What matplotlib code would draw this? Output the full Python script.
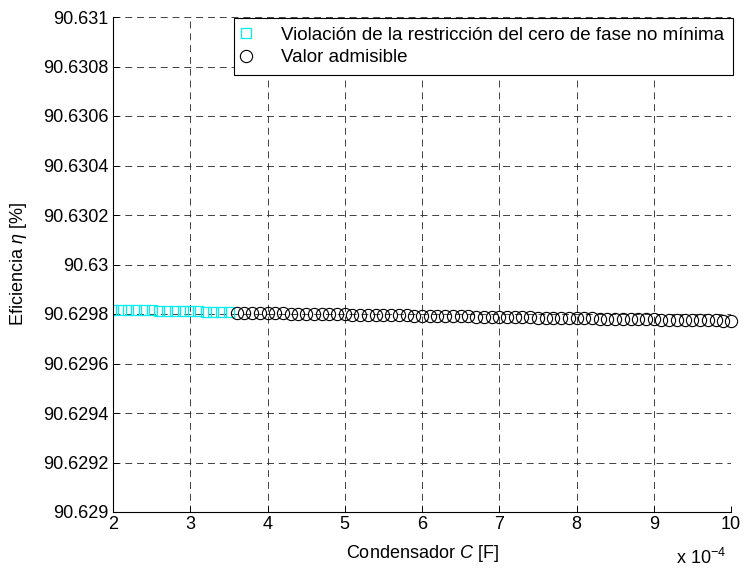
import matplotlib
matplotlib.use("Agg")
import matplotlib.pyplot as plt

plt.rcParams["font.family"] = ["Liberation Sans", "DejaVu Sans"]
plt.rcParams["mathtext.fontset"] = "custom"
plt.rcParams["mathtext.rm"] = "Liberation Sans"
plt.rcParams["mathtext.it"] = "Liberation Sans:italic"
plt.rcParams["font.size"] = 13
plt.rcParams["lines.scale_dashes"] = False

# Condensador C en unidades de 1e-4 F
c_viol = [2.0, 2.1, 2.2, 2.3, 2.4, 2.5, 2.6, 2.7, 2.8, 2.9, 3.0, 3.1,
          3.2, 3.3, 3.4, 3.5]
eta_viol = [90.629818, 90.629818, 90.629818, 90.629818, 90.629818, 90.629818,
            90.629813, 90.629813, 90.629813, 90.629813, 90.629813, 90.629813,
            90.629808, 90.629808, 90.629808, 90.629808]

c_ok = [3.6, 3.7, 3.8, 3.9, 4.0, 4.1, 4.2, 4.3, 4.4, 4.5, 4.6, 4.7, 4.8, 4.9,
        5.0, 5.1, 5.2, 5.3, 5.4, 5.5, 5.6, 5.7, 5.8, 5.9, 6.0, 6.1, 6.2, 6.3,
        6.4, 6.5, 6.6, 6.7, 6.8, 6.9, 7.0, 7.1, 7.2, 7.3, 7.4, 7.5, 7.6, 7.7,
        7.8, 7.9, 8.0, 8.1, 8.2, 8.3, 8.4, 8.5, 8.6, 8.7, 8.8, 8.9, 9.0, 9.1,
        9.2, 9.3, 9.4, 9.5, 9.6, 9.7, 9.8, 9.9, 10.0]
eta_ok = [90.629806, 90.629805, 90.629805, 90.629804, 90.629804, 90.629803,
          90.629803, 90.629802, 90.629802, 90.629801, 90.629800, 90.629800,
          90.629799, 90.629799, 90.629798, 90.629797, 90.629797, 90.629796,
          90.629796, 90.629795, 90.629795, 90.629794, 90.629794, 90.629793,
          90.629793, 90.629792, 90.629792, 90.629791, 90.629791, 90.629790,
          90.629790, 90.629789, 90.629789, 90.629788, 90.629788, 90.629787,
          90.629787, 90.629786, 90.629786, 90.629785, 90.629785, 90.629784,
          90.629784, 90.629783, 90.629783, 90.629782, 90.629782, 90.629781,
          90.629781, 90.629780, 90.629780, 90.629779, 90.629779, 90.629778,
          90.629778, 90.629777, 90.629777, 90.629776, 90.629776, 90.629775,
          90.629775, 90.629774, 90.629774, 90.629773, 90.629773]

xticks = [2, 3, 4, 5, 6, 7, 8, 9, 10]
yticks = [90.629, 90.6292, 90.6294, 90.6296, 90.6298, 90.63,
          90.6302, 90.6304, 90.6306, 90.6308, 90.631]
ytick_labels = ["90.629", "90.6292", "90.6294", "90.6296", "90.6298", "90.63",
                "90.6302", "90.6304", "90.6306", "90.6308", "90.631"]

fig = plt.figure(figsize=(7.44, 5.69), dpi=100)
ax = fig.add_axes([113 / 744, 1 - 512 / 569, 618 / 744, 495 / 569])

ax.plot(c_viol, eta_viol, linestyle="none", marker="s", markersize=7.8,
        markerfacecolor="none", markeredgecolor="#00f0f0", markeredgewidth=0.9,
        label="Violación de la restricción del cero de fase no mínima")
ax.plot(c_ok, eta_ok, linestyle="none", marker="o", markersize=8.8,
        markerfacecolor="none", markeredgecolor="black", markeredgewidth=0.8,
        label="Valor admisible", clip_on=False)

ax.set_xlim(2, 10)
ax.set_ylim(90.629, 90.631)
ax.set_xticks(xticks)
ax.set_yticks(yticks)
ax.set_yticklabels(ytick_labels)
ax.grid(True, color="#222222", linewidth=0.6, linestyle=(0, (5, 3.5)))
ax.tick_params(direction="in", length=4, width=0.7, pad=3)
ax.spines["top"].set_visible(False)
ax.spines["right"].set_visible(False)
ax.spines["left"].set_linewidth(0.8)
ax.spines["bottom"].set_linewidth(0.8)

ax.set_xlabel("Condensador $C$ [F]", labelpad=7)
ax.set_ylabel("Eficiencia $\\eta$ [%]", labelpad=10)
fig.text(726 / 744, 5 / 569, "x 10$^{-4}$", ha="right", va="baseline")

leg = ax.legend(loc="upper right", bbox_to_anchor=(733 / 744, 1 - 18 / 569),
                bbox_transform=fig.transFigure, borderaxespad=0,
                fancybox=False, framealpha=1, edgecolor="black",
                fontsize=13.5, handlelength=0.4, handletextpad=1.7,
                labelspacing=0.3, borderpad=0.45)
leg.get_frame().set_linewidth(0.8)

fig.savefig("out.png", dpi=100)
